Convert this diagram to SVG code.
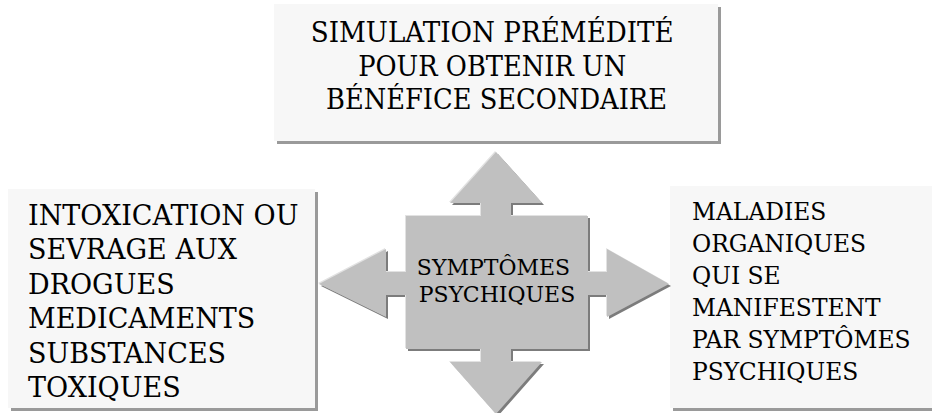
<svg xmlns="http://www.w3.org/2000/svg" width="932" height="413" viewBox="0 0 932 413">
  <style>
    .box { fill: #f7f7f7; }
    .shadow { fill: #9a9a9a; }
    .t { font-family: "DejaVu Serif", "Liberation Serif", serif; fill: #000; }
    .big { font-size: 27px; }
    .mid { font-size: 23.4px; }
    .small { font-size: 22px; }
  </style>
  <defs>
    <!-- four-way arrow around the central square -->
    <path id="cross" d="M496,152 L542,203 L511,203 L511,216 L588,216 L588,272 L607,272 L607,249 L669,284 L607,317 L607,295 L588,295 L588,349 L511,349 L511,362 L542,362 L496,414 L450,362 L481,362 L481,349 L406,349 L406,295 L386,295 L386,317 L319,284 L386,249 L386,272 L406,272 L406,216 L481,216 L481,203 L450,203 Z"/>
  </defs>
  <rect width="932" height="413" fill="#ffffff"/>

  <g id="node-simulation">
    <rect class="shadow" x="277" y="7" width="444" height="137"/>
    <rect class="box" x="274" y="4" width="444" height="137"/>
    <text class="t big" text-anchor="middle">
      <tspan x="496.5" y="42" textLength="363" lengthAdjust="spacingAndGlyphs">SIMULATION PRÉMÉDITÉ</tspan>
      <tspan x="496.5" y="76" textLength="268" lengthAdjust="spacingAndGlyphs">POUR OBTENIR UN</tspan>
      <tspan x="496.5" y="109" textLength="341" lengthAdjust="spacingAndGlyphs">BÉNÉFICE SECONDAIRE</tspan>
    </text>
  </g>

  <g id="node-intoxication">
    <rect class="shadow" x="11" y="192" width="307" height="219"/>
    <rect class="box" x="8" y="189" width="307" height="219"/>
    <text class="t big">
      <tspan x="28" y="225">INTOXICATION OU</tspan>
      <tspan x="28" y="259.4">SEVRAGE AUX</tspan>
      <tspan x="28" y="293.8">DROGUES</tspan>
      <tspan x="28" y="328.2">MEDICAMENTS</tspan>
      <tspan x="28" y="362.6">SUBSTANCES</tspan>
      <tspan x="28" y="397">TOXIQUES</tspan>
    </text>
  </g>

  <g id="node-maladies">
    <rect class="shadow" x="673" y="189" width="262" height="222"/>
    <rect class="box" x="670" y="186" width="262" height="222"/>
    <text class="t mid">
      <tspan x="692" y="220">MALADIES</tspan>
      <tspan x="692" y="252">ORGANIQUES</tspan>
      <tspan x="692" y="284">QUI SE</tspan>
      <tspan x="692" y="316">MANIFESTENT</tspan>
      <tspan x="692" y="348">PAR SYMPTÔMES</tspan>
      <tspan x="692" y="380">PSYCHIQUES</tspan>
    </text>
  </g>

  <g id="connectors">
    <use href="#cross" fill="#7c7c7c" transform="translate(2,2)"/>
    <use href="#cross" fill="#e2e2e2" transform="translate(-1,-1)"/>
    <use href="#cross" fill="#c0c0c0"/>
  </g>

  <g id="node-symptomes">
    <text class="t small" text-anchor="middle">
      <tspan x="497" y="275">SYMPTÔMES</tspan>
      <tspan x="497" y="302">PSYCHIQUES</tspan>
    </text>
  </g>
</svg>
